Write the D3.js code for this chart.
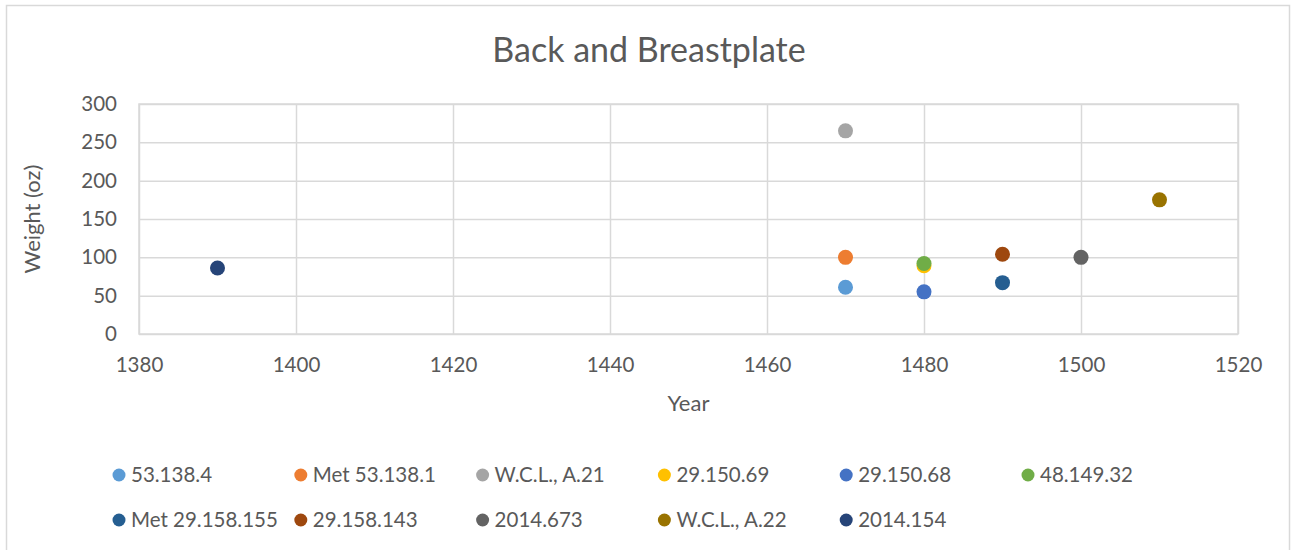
<!DOCTYPE html>
<html>
<head>
<meta charset="utf-8">
<script src="https://cdn.jsdelivr.net/npm/d3@7"></script>
<style>
  body { margin: 0; background: #fff; }
  svg text { font-family: Lato, "Open Sans", sans-serif; fill: #595959; }
</style>
</head>
<body>
<svg width="1291" height="550"></svg>
<script>
// series, one point each
var seriesNames = ["53.138.4", "Met 53.138.1", "W.C.L., A.21", "29.150.69", "29.150.68", "48.149.32",
                   "Met 29.158.155", "29.158.143", "2014.673", "W.C.L., A.22", "2014.154"];
var years   = [1470, 1470, 1470, 1480, 1480, 1480, 1490, 1490, 1500, 1510, 1390];
var weights = [61, 100, 265, 89, 55, 92, 67, 104, 100, 175, 86];
var colors  = ["#5B9BD5", "#ED7D31", "#A5A5A5", "#FFC000", "#4472C4", "#70AD47",
               "#255E91", "#9E480E", "#636363", "#997300", "#264478"];
var xTicks = [1380, 1400, 1420, 1440, 1460, 1480, 1500, 1520];
var yTicks = [0, 50, 100, 150, 200, 250, 300];

var svg = d3.select("svg");
var plotLeft = 139, plotRight = 1238, plotTop = 104, plotBottom = 334;

var x = d3.scaleLinear().domain([1380, 1520]).range([plotLeft, plotRight]);
var y = d3.scaleLinear().domain([0, 300]).range([plotBottom, plotTop]);

// outer chart border
svg.append("rect")
    .attr("x", 6.5).attr("y", 5.5)
    .attr("width", 1283).attr("height", 560)
    .attr("fill", "none").attr("stroke", "#d9d9d9").attr("stroke-width", 1.5);

svg.append("text")
    .attr("x", 649).attr("y", 62)
    .attr("text-anchor", "middle")
    .style("font-size", "34px")
    .text("Back and Breastplate");

// gridlines
svg.append("g")
    .attr("transform", "translate(0," + plotBottom + ")")
    .call(d3.axisBottom(x).tickValues(xTicks).tickSize(-(plotBottom - plotTop)).tickFormat(""))
    .call(function(g) {
      g.select(".domain").remove();
      g.selectAll("line").attr("stroke", "#d9d9d9").attr("stroke-width", 1.5);
    });

svg.append("g")
    .attr("transform", "translate(" + plotLeft + ",0)")
    .call(d3.axisLeft(y).tickValues(yTicks).tickSize(-(plotRight - plotLeft)).tickFormat(""))
    .call(function(g) {
      g.select(".domain").remove();
      g.selectAll("line").attr("stroke", "#d9d9d9").attr("stroke-width", 1.5);
    });

svg.append("rect")
    .attr("x", plotLeft).attr("y", plotTop)
    .attr("width", plotRight - plotLeft).attr("height", plotBottom - plotTop)
    .attr("fill", "none").attr("stroke", "#d9d9d9").attr("stroke-width", 1.5);

// tick labels
svg.append("g")
    .attr("transform", "translate(0," + plotBottom + ")")
    .call(d3.axisBottom(x).tickValues(xTicks).tickSize(0).tickPadding(23).tickFormat(d3.format("d")))
    .call(function(g) {
      g.select(".domain").remove();
      g.selectAll("text").style("font-size", "20.5px").attr("fill", "#595959");
    });

svg.append("g")
    .attr("transform", "translate(" + plotLeft + ",0)")
    .call(d3.axisLeft(y).tickValues(yTicks).tickSize(0).tickPadding(22))
    .call(function(g) {
      g.select(".domain").remove();
      g.selectAll("text").style("font-size", "20.5px").attr("fill", "#595959");
    });

// axis titles
svg.append("text")
    .attr("x", (plotLeft + plotRight) / 2).attr("y", 411)
    .attr("text-anchor", "middle")
    .style("font-size", "22px")
    .text("Year");

svg.append("text")
    .attr("transform", "translate(40," + (plotTop + plotBottom) / 2 + ") rotate(-90)")
    .attr("text-anchor", "middle")
    .style("font-size", "22px")
    .text("Weight (oz)");

// points
svg.append("g").selectAll("circle")
    .data(seriesNames)
    .enter().append("circle")
    .attr("cx", function(d, i) { return x(years[i]); })
    .attr("cy", function(d, i) { return y(weights[i]); })
    .attr("r", 7.5)
    .attr("fill", function(d, i) { return colors[i]; });

// legend, 6 columns
var legend = svg.append("g").selectAll("g")
    .data(seriesNames)
    .enter().append("g")
    .attr("transform", function(d, i) {
      return "translate(" + (119 + (i % 6) * 181.8) + "," + (475 + Math.floor(i / 6) * 45) + ")";
    });

legend.append("circle")
    .attr("r", 6.5)
    .attr("fill", function(d, i) { return colors[i]; });

legend.append("text")
    .attr("x", 12).attr("dy", "0.35em")
    .style("font-size", "20.5px")
    .text(function(d) { return d; });
</script>
</body>
</html>
